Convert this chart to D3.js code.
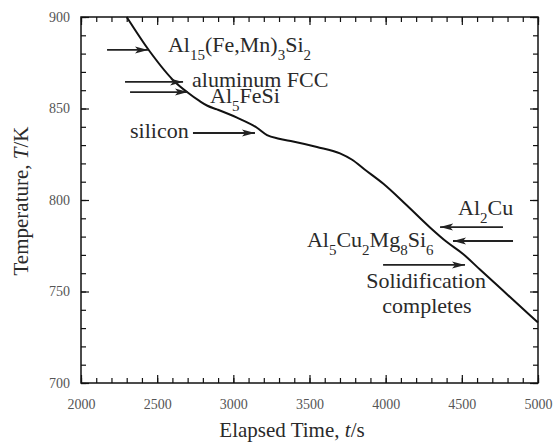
<!DOCTYPE html>
<html>
<head>
<meta charset="utf-8">
<script src="https://cdn.jsdelivr.net/npm/d3@7"></script>
<style>
  body { margin: 0; background: #fff; }
</style>
</head>
<body>
<div id="chart"></div>
<script>
var w = 554;
var h = 445;
var margin = { top: 17, right: 16, bottom: 62, left: 81 };

// cooling curve
var timeVals = [2300, 2453, 2617, 2696, 2780, 2830, 2893, 3024, 3155, 3221, 3300, 3392, 3549, 3700, 3780, 3860, 3983, 4140, 4291, 4402, 4508, 4619, 4770, 4947, 5000];
var tempVals = [900, 881, 864.5, 859, 854, 851.5, 849.5, 845, 839.5, 835.5, 833.5, 832, 829, 825.5, 822, 816.8, 809, 797, 785, 777, 770.5, 762, 750.5, 737, 733];

var xTicks = [2000, 2500, 3000, 3500, 4000, 4500, 5000];
var yTicks = [700, 750, 800, 850, 900];

// annotation arrows: start time, end time (head), temperature
var arrowFrom = [2171, 2289, 2322, 2735, 4770, 4836, 3983];
var arrowTo = [2440, 2670, 2702, 3142, 4357, 4442, 4521];
var arrowTemp = [882, 864.5, 859, 836.6, 785.2, 777.6, 764.5];

// labels: parts as [text, isSubscript]
var labelParts = [
  [["Al", 0], ["15", 1], ["(Fe,Mn)", 0], ["3", 1], ["Si", 0], ["2", 1]],
  [["aluminum FCC", 0]],
  [["Al", 0], ["5", 1], ["FeSi", 0]],
  [["silicon", 0]],
  [["Al", 0], ["2", 1], ["Cu", 0]],
  [["Al", 0], ["5", 1], ["Cu", 0], ["2", 1], ["Mg", 0], ["8", 1], ["Si", 0], ["6", 1]],
  [["Solidification", 0]],
  [["completes", 0]]
];
var labelTime = [2571, 2729, 2847, 2322, 4475, 3483, 4265, 4271];
var labelTemp = [880.9, 861.7, 853, 833.9, 791.8, 774.3, 751.9, 738.3];
var labelAnchor = ["start", "start", "start", "start", "start", "start", "middle", "middle"];

var serif = "'Liberation Serif'";

var iw = w - margin.left - margin.right;
var ih = h - margin.top - margin.bottom;

var svg = d3.select("#chart").append("svg")
  .attr("width", w)
  .attr("height", h)
  .style("font-family", serif);

var g = svg.append("g").attr("transform", "translate(" + margin.left + "," + margin.top + ")");

var x = d3.scaleLinear().domain([2000, 5000]).range([0, iw]);
var y = d3.scaleLinear().domain([700, 900]).range([ih, 0]);

var minorX = d3.range(2000, 5001, 100);
var minorY = d3.range(700, 901, 10);

function styleAxis(sel) {
  sel.attr("font-family", null);
  sel.select(".domain").remove();
  sel.selectAll(".tick line").attr("stroke", "#111").attr("stroke-width", 1.2);
  sel.selectAll("text")
    .style("font-family", serif)
    .attr("font-size", 14)
    .attr("fill", "#555");
}

// minor ticks, all four sides
g.append("g").attr("transform", "translate(0," + ih + ")")
  .call(d3.axisBottom(x).tickValues(minorX).tickSize(-5).tickFormat(""))
  .call(styleAxis);
g.append("g")
  .call(d3.axisTop(x).tickValues(minorX).tickSize(-5).tickFormat(""))
  .call(styleAxis);
g.append("g")
  .call(d3.axisLeft(y).tickValues(minorY).tickSize(-5).tickFormat(""))
  .call(styleAxis);
g.append("g").attr("transform", "translate(" + iw + ",0)")
  .call(d3.axisRight(y).tickValues(minorY).tickSize(-5).tickFormat(""))
  .call(styleAxis);

// major ticks
g.append("g").attr("transform", "translate(0," + ih + ")")
  .call(d3.axisBottom(x).tickValues(xTicks).tickSize(-8).tickPadding(16).tickFormat(d3.format("d")))
  .call(styleAxis);
g.append("g")
  .call(d3.axisTop(x).tickValues(xTicks).tickSize(-8).tickFormat(""))
  .call(styleAxis);
g.append("g")
  .call(d3.axisLeft(y).tickValues(yTicks).tickSize(-8).tickPadding(11).tickFormat(d3.format("d")))
  .call(styleAxis);
g.append("g").attr("transform", "translate(" + iw + ",0)")
  .call(d3.axisRight(y).tickValues(yTicks).tickSize(-8).tickFormat(""))
  .call(styleAxis);

// frame
g.append("rect")
  .attr("width", iw)
  .attr("height", ih)
  .attr("fill", "none")
  .attr("stroke", "#111")
  .attr("stroke-width", 1.5);

// curve
var line = d3.line()
  .x(function (d, i) { return x(timeVals[i]); })
  .y(function (d, i) { return y(tempVals[i]); })
  .curve(d3.curveMonotoneX);

g.append("path")
  .datum(timeVals)
  .attr("d", line)
  .attr("fill", "none")
  .attr("stroke", "#111")
  .attr("stroke-width", 2)
  .attr("stroke-linejoin", "round");

// arrows
svg.append("defs").append("marker")
  .attr("id", "head")
  .attr("viewBox", "0 0 13 9")
  .attr("refX", 13)
  .attr("refY", 4.5)
  .attr("markerWidth", 13)
  .attr("markerHeight", 9)
  .attr("markerUnits", "userSpaceOnUse")
  .attr("orient", "auto")
  .append("path")
  .attr("d", "M0,1 L13,4.5 L0,8 L3,4.5 Z")
  .attr("fill", "#222");

g.selectAll("line.arrow")
  .data(arrowFrom)
  .enter()
  .append("line")
  .attr("class", "arrow")
  .attr("x1", function (d) { return x(d); })
  .attr("x2", function (d, i) { return x(arrowTo[i]); })
  .attr("y1", function (d, i) { return y(arrowTemp[i]); })
  .attr("y2", function (d, i) { return y(arrowTemp[i]); })
  .attr("stroke", "#222")
  .attr("stroke-width", 1.8)
  .attr("marker-end", "url(#head)");

// labels
var labels = g.selectAll("text.label")
  .data(labelParts)
  .enter()
  .append("text")
  .attr("class", "label")
  .attr("x", function (d, i) { return x(labelTime[i]); })
  .attr("y", function (d, i) { return y(labelTemp[i]); })
  .attr("text-anchor", function (d, i) { return labelAnchor[i]; })
  .style("font-family", serif)
  .attr("font-size", 22)
  .attr("fill", "#2a2a2a");

labels.selectAll("tspan")
  .data(function (d) {
    // shift down for a subscript, back up after it
    var prev = 0;
    return d.map(function (p) {
      var dy = (p[1] ? 8 : 0) - (prev ? 8 : 0);
      prev = p[1];
      return { t: p[0], sub: p[1], dy: dy };
    });
  })
  .enter()
  .append("tspan")
  .attr("dy", function (d) { return d.dy; })
  .attr("font-size", function (d) { return d.sub ? 15 : 22; })
  .text(function (d) { return d.t; });

// axis titles
var xt = svg.append("text")
  .attr("x", 292)
  .attr("y", 437)
  .attr("text-anchor", "middle")
  .style("font-family", serif)
  .attr("font-size", 21)
  .attr("fill", "#2a2a2a");
xt.append("tspan").text("Elapsed Time, ");
xt.append("tspan").attr("font-style", "italic").text("t");
xt.append("tspan").text("/s");

var yt = svg.append("text")
  .attr("transform", "translate(28,201) rotate(-90)")
  .attr("text-anchor", "middle")
  .style("font-family", serif)
  .attr("font-size", 21)
  .attr("fill", "#2a2a2a");
yt.append("tspan").text("Temperature, ");
yt.append("tspan").attr("font-style", "italic").text("T");
yt.append("tspan").text("/K");
</script>
</body>
</html>
